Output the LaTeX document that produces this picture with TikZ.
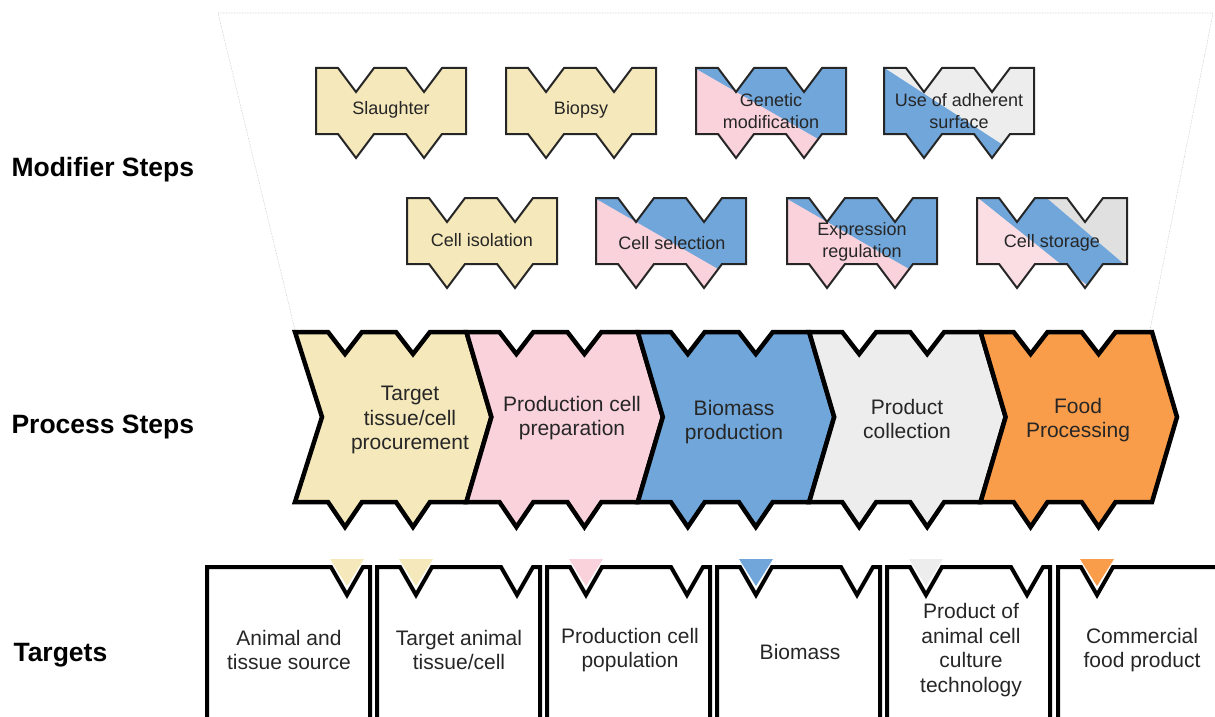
\documentclass[tikz,border=0pt]{standalone}
\usepackage{fontspec}
\setmainfont{Liberation Sans}
\definecolor{stepyellow}{RGB}{245,232,187}
\definecolor{steppink}{RGB}{249,210,220}
\definecolor{stepblue}{RGB}{112,166,218}
\definecolor{stepgray}{RGB}{237,237,237}
\definecolor{steporange}{RGB}{250,157,74}
\definecolor{palepink}{RGB}{250,222,228}
\definecolor{midgray}{RGB}{224,224,224}
\newcommand{\modpath}[2]{(#1,#2) -- ++(22,0) -- ++(18,24) -- ++(18,-24) -- ++(32,0) -- ++(18,24) -- ++(18,-24) -- ++(24,0) -- ++(0,66) -- ++(-24,0) -- ++(-18,24) -- ++(-18,-24) -- ++(-32,0) -- ++(-18,24) -- ++(-18,-24) -- ++(-22,0) -- cycle}
\newcommand{\chevpath}[2]{(#1,332) -- ++(33,0) -- ++(17,22) -- ++(17,-22) -- ++(34,0) -- ++(17,22) -- ++(17,-22) -- ++(36.4,0) -- ++(25,85) -- ++(-25,85) -- ++(-36.4,0) -- ++(-17,25) -- ++(-17,-25) -- ++(-34,0) -- ++(-17,25) -- ++(-17,-25) -- ++(-33,0) -- ++(#2,-85) -- cycle}
\tikzset{
  modline/.style={draw=black!85, line width=2pt},
  chevline/.style={draw=black, line width=4.5pt},
  tgtline/.style={draw=black, line width=4pt},
  modtext/.style={align=center, text=black!85, font=\fontsize{18}{21.7}\selectfont},
  steptext/.style={align=center, text=black!85, font=\fontsize{21}{24.5}\selectfont},
  rowlabel/.style={anchor=west, font=\fontsize{26.5}{30}\selectfont\bfseries},
}

\begin{document}
\begin{tikzpicture}[x=1pt, y=-1pt]
    \clip (0,0) rectangle (1215,717);
    \draw[gray!45, line width=0.6pt, densely dotted] (295,330) -- (218,13) -- (1213,13) -- (1150,330);

    \node[rowlabel] (modlbl) at (8,170) {Modifier Steps};
    \node[rowlabel] (proclbl) at (8,427) {Process Steps};
    \node[rowlabel] (tgtlbl) at (10,655) {Targets};

    \fill[stepyellow] \modpath{316}{68};
    \draw[modline] \modpath{316}{68};
    \fill[stepyellow] \modpath{506}{68};
    \draw[modline] \modpath{506}{68};
    \begin{scope}
      \clip \modpath{696}{68};
      \fill[steppink] (690,60) rectangle (860,170);
      \fill[stepblue] (686,63) -- (860,63) -- (860,163) -- cycle;
    \end{scope}
    \draw[modline] \modpath{696}{68};
    \begin{scope}
      \clip \modpath{884}{68};
      \fill[stepblue] (878,60) rectangle (1045,170);
      \fill[stepgray] (877,63) -- (1045,63) -- (1045,163) -- (1031,163) -- cycle;
    \end{scope}
    \draw[modline] \modpath{884}{68};

    \fill[stepyellow] \modpath{407}{198};
    \draw[modline] \modpath{407}{198};
    \begin{scope}
      \clip \modpath{596}{198};
      \fill[steppink] (590,190) rectangle (760,300);
      \fill[stepblue] (586,193) -- (760,193) -- (760,293) -- cycle;
    \end{scope}
    \draw[modline] \modpath{596}{198};
    \begin{scope}
      \clip \modpath{787}{198};
      \fill[steppink] (780,190) rectangle (951,300);
      \fill[stepblue] (777,193) -- (951,193) -- (951,293) -- cycle;
    \end{scope}
    \draw[modline] \modpath{787}{198};
    \begin{scope}
      \clip \modpath{977}{198};
      \fill[palepink] (970,190) rectangle (1140,300);
      \fill[stepblue] (972,193) -- (1200,193) -- (1200,293) -- (1097,293) -- cycle;
      \fill[midgray] (1041,193) -- (1200,193) -- (1200,293) -- (1158,293) -- cycle;
    \end{scope}
    \draw[modline] \modpath{977}{198};

    \node[modtext] (slaughter) at (391,110) {Slaughter};
    \node[modtext] (biopsy) at (581,110) {Biopsy};
    \node[modtext] (genmod) at (771,111) {Genetic\\modification};
    \node[modtext] (adherent) at (959,111) {Use of adherent\\surface};
    \node[modtext] (isolation) at (482,240) {Cell isolation};
    \node[modtext] (selection) at (672,243) {Cell selection};
    \node[modtext] (exprreg) at (862,242) {Expression\\regulation};
    \node[modtext] (storage) at (1052,243) {Cell storage};

    \filldraw[chevline, fill=stepyellow] \chevpath{295}{27};
    \filldraw[chevline, fill=steppink] \chevpath{466.4}{25};
    \filldraw[chevline, fill=stepblue] \chevpath{637.8}{25};
    \filldraw[chevline, fill=stepgray] \chevpath{809.2}{25};
    \filldraw[chevline, fill=steporange] \chevpath{980.6}{25};

    \node[steptext] (procure) at (410,420) {Target\\tissue/cell\\procurement};
    \node[steptext] (prep) at (572,418) {Production cell\\preparation};
    \node[steptext] (bioprod) at (734,422) {Biomass\\production};
    \node[steptext] (collect) at (907,419) {Product\\collection};
    \node[steptext] (foodproc) at (1078,420) {Food\\Processing};

    \fill[stepyellow] (330,559) -- (364,559) -- (347,586) -- cycle;
    \fill[stepyellow] (399,559) -- (433,559) -- (416,586) -- cycle;
    \fill[steppink] (569,559) -- (603,559) -- (586,586) -- cycle;
    \fill[stepblue] (739,559) -- (773,559) -- (756,586) -- cycle;
    \fill[stepgray] (909,559) -- (943,559) -- (926,586) -- cycle;
    \fill[steporange] (1080,559) -- (1114,559) -- (1097,586) -- cycle;

    \draw[tgtline] (207,730) -- (207,567) -- ++(124,0) -- ++(16,28) -- ++(16,-28) -- ++(7,0) -- ++(0,163);
    \draw[tgtline] (377,730) -- (377,567) -- ++(23,0) -- ++(16,28) -- ++(16,-28) -- ++(69,0) -- ++(16,28) -- ++(16,-28) -- ++(7,0) -- ++(0,163);
    \draw[tgtline] (547,730) -- (547,567) -- ++(23,0) -- ++(16,28) -- ++(16,-28) -- ++(69,0) -- ++(16,28) -- ++(16,-28) -- ++(7,0) -- ++(0,163);
    \draw[tgtline] (717,730) -- (717,567) -- ++(23,0) -- ++(16,28) -- ++(16,-28) -- ++(69,0) -- ++(16,28) -- ++(16,-28) -- ++(7,0) -- ++(0,163);
    \draw[tgtline] (887,730) -- (887,567) -- ++(23,0) -- ++(16,28) -- ++(16,-28) -- ++(69,0) -- ++(16,28) -- ++(16,-28) -- ++(7,0) -- ++(0,163);
    \draw[tgtline] (1058,730) -- (1058,567) -- ++(23,0) -- ++(16,28) -- ++(16,-28) -- (1230,567);

    \node[steptext] (source) at (289,650) {Animal and\\tissue source};
    \node[steptext] (tissue) at (459,650) {Target animal\\tissue/cell};
    \node[steptext] (population) at (630,650) {Production cell\\population};
    \node[steptext] (biomass) at (800,652) {Biomass};
    \node[steptext] (product) at (971,650) {Product of\\animal cell\\culture\\technology};
    \node[steptext] (commercial) at (1142,650) {Commercial\\food product};
\end{tikzpicture}
\end{document}
